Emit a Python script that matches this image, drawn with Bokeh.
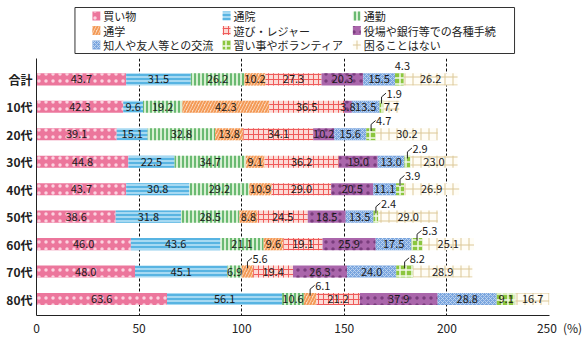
from bokeh.plotting import figure
from bokeh.models import ColumnDataSource, Range1d, FixedTicker
from bokeh.layouts import column
from bokeh.embed import file_html
from bokeh.resources import INLINE
from bokeh.core.properties import value

FONT = "Noto Sans CJK JP"

categories = ["合計", "10代", "20代", "30代", "40代", "50代", "60代", "70代", "80代"]
series_names = ["買い物", "通院", "通勤", "通学", "遊び・レジャー",
                "役場や銀行等での各種手続", "知人や友人等との交流",
                "習い事やボランティア", "困ることはない"]
kaimono = [43.7, 42.3, 39.1, 44.8, 43.7, 38.6, 46.0, 48.0, 63.6]
tsuin = [31.5, 9.6, 15.1, 22.5, 30.8, 31.8, 43.6, 45.1, 56.1]
tsukin = [26.2, 19.2, 32.8, 34.7, 29.2, 28.5, 21.1, 6.9, 10.6]
tsugaku = [10.2, 42.3, 13.8, 9.1, 10.9, 8.8, 9.6, 5.6, 6.1]
asobi = [27.3, 36.5, 34.1, 36.2, 29.0, 24.5, 19.1, 19.4, 21.2]
yakuba = [20.3, 3.8, 10.2, 19.0, 20.5, 18.5, 25.9, 26.3, 37.9]
chijin = [15.5, 13.5, 15.6, 13.0, 11.1, 13.5, 17.5, 24.0, 28.8]
naraigoto = [4.3, 1.9, 4.7, 2.9, 3.9, 2.4, 5.3, 8.2, 9.1]
komaru = [26.2, 7.7, 30.2, 23.0, 26.9, 29.0, 25.1, 28.9, 16.7]
x_ticks = [0, 50, 100, 150, 200, 250]
x_unit = "(%)"

series_values = [kaimono, tsuin, tsukin, tsugaku, asobi, yakuba, chijin, naraigoto, komaru]

styles = [
    dict(fill_color="#EC769C", hatch_color="#FBD3E0", hatch_pattern="dot", hatch_scale=7, hatch_weight=0.5),
    dict(fill_color="#A6D9F2", hatch_color="#3DA8DD", hatch_pattern="horizontal_line", hatch_scale=4, hatch_weight=1.5),
    dict(fill_color="#D8EFD2", hatch_color="#45A851", hatch_pattern="vertical_line", hatch_scale=4, hatch_weight=1.5),
    dict(fill_color="#FCDDC4", hatch_color="#F39A57", hatch_pattern="right_diagonal_line", hatch_scale=6, hatch_weight=2),
    dict(fill_color="#FCDAD5", hatch_color="#EF5B5B", hatch_pattern="cross", hatch_scale=5, hatch_weight=1),
    dict(fill_color="#AA66AB", hatch_color="#7A3D7E", hatch_pattern="dot", hatch_scale=7, hatch_weight=0.6),
    dict(fill_color="#7AA5DE", hatch_color="#C8DAF2", hatch_pattern="diagonal_cross", hatch_scale=4, hatch_weight=0.8),
    dict(fill_color="#8CC63F", hatch_color="#F2F9E8", hatch_pattern="cross", hatch_scale=6, hatch_weight=1.5),
    dict(fill_color="#FFFDF6", hatch_color="#DCC897", hatch_pattern="cross", hatch_scale=8, hatch_weight=1),
]

# labels drawn outside the bar with a leader: (series index, row index)
callouts = [(7, r) for r in range(8)] + [(3, 7), (3, 8)]

rows = list(range(len(categories)))

p = figure(width=587, height=282, x_range=Range1d(0, 250), y_range=Range1d(8.6, -0.76),
           output_backend="svg", toolbar_location=None,
           min_border_left=36, min_border_right=38, min_border_top=2, min_border_bottom=23)
p.outline_line_color = None
p.ygrid.visible = False
p.xgrid.ticker = FixedTicker(ticks=x_ticks)
p.xgrid.grid_line_color = "#111111"
p.xgrid.grid_line_dash = "3 2"
p.xgrid.grid_line_width = 1

p.xaxis.ticker = FixedTicker(ticks=x_ticks)
# last tick label carries the unit; figure spaces keep "250" centred on its tick
p.xaxis.major_label_overrides = {x_ticks[-1]: "\u2007\u2007\u2007" + str(x_ticks[-1]) + "\u2002" + x_unit}
p.xaxis.major_tick_out = 0
p.xaxis.major_tick_in = 0
p.xaxis.minor_tick_line_color = None
p.xaxis.major_label_standoff = 3
p.xaxis.axis_line_color = "#222222"
p.xaxis.major_label_text_font = FONT
p.xaxis.major_label_text_font_size = "12px"
p.xaxis.major_label_text_color = "#222222"

p.yaxis.ticker = FixedTicker(ticks=rows)
p.yaxis.major_label_overrides = {r: c for r, c in zip(rows, categories)}
p.yaxis.major_tick_out = 0
p.yaxis.major_tick_in = 0
p.yaxis.minor_tick_line_color = None
p.yaxis.major_label_standoff = 4
p.yaxis.axis_line_color = "#222222"
p.yaxis.major_label_text_font = FONT
p.yaxis.major_label_text_font_size = "12px"
p.yaxis.major_label_text_font_style = "bold"
p.yaxis.major_label_text_color = "#222222"

cum = [0.0] * len(categories)
in_x, in_y, in_t = [], [], []
co_x, co_y, co_t = [], [], []
top_x, top_y, top_t = [], [], []
lead_xs, lead_ys = [], []
for si, vals in enumerate(series_values):
    left = cum[:]
    right = [a + b for a, b in zip(cum, vals)]
    src = ColumnDataSource(dict(y=rows, left=left, right=right))
    p.hbar(y="y", left="left", right="right", height=0.44, source=src, line_color=None, **styles[si])
    for r in rows:
        c = (left[r] + right[r]) / 2
        t = f"{vals[r]:.1f}"
        if (si, r) in callouts:
            if r == 0:
                top_x.append(c); top_y.append(r - 0.47); top_t.append(t)
            else:
                co_x.append(c); co_y.append(r - 0.47); co_t.append(t)
                lead_xs.append([c, c, c + 2.2])
                lead_ys.append([r - 0.12, r - 0.36, r - 0.5])
        else:
            in_x.append(c); in_y.append(r); in_t.append(t)
    cum = right

txt_kw = dict(text_font=value(FONT), text_font_size="11px", text_color="#1A1A1A",
              text_baseline="middle")
p.text(x=in_x, y=in_y, text=in_t, text_align="center", **txt_kw)
p.text(x=top_x, y=top_y, text=top_t, text_align="center", x_offset=3, **txt_kw)
p.text(x=co_x, y=co_y, text=co_t, text_align="left", x_offset=5, **txt_kw)
p.multi_line(xs=lead_xs, ys=lead_ys, line_color="#222222", line_width=1)

# legend panel
leg = figure(width=587, height=56, x_range=Range1d(0, 587), y_range=Range1d(56, 0),
             output_backend="svg", toolbar_location=None, min_border=0,
             x_axis_location=None, y_axis_location=None)
leg.outline_line_color = None
leg.grid.visible = False
leg.quad(left=[44], right=[547], top=[7], bottom=[53], fill_color=None, line_color="#333333", line_width=1)
for k, name in enumerate(series_names):
    col, row = k % 3, k // 3
    x0 = 68.5 + 149 * col
    y0 = 15.5 + 14.5 * row
    leg.rect(x=[x0], y=[y0], width=9, height=9, line_color=None, **styles[k])
    leg.text(x=[x0 + 8], y=[y0], text=[name], text_font=value(FONT), text_font_size="11px",
             text_color="#222222", text_baseline="middle", text_align="left")

layout = column(leg, p, spacing=0)
open("out.html", "w").write(file_html(layout, INLINE))
